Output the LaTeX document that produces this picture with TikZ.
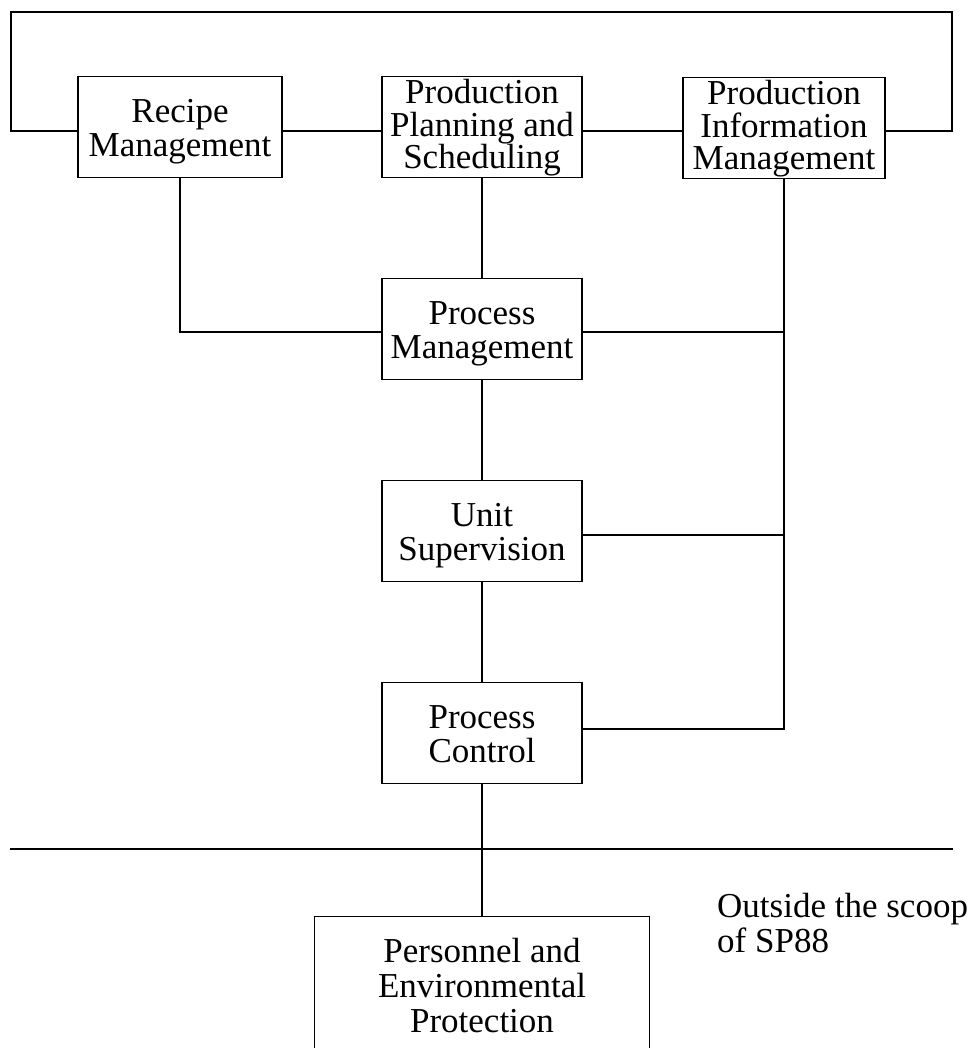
\documentclass[tikz,border=0pt]{standalone}
\usepackage{fontspec}
\setmainfont{Liberation Serif}
\usetikzlibrary{calc}
\begin{document}
\begin{tikzpicture}[x=1pt,y=-1pt,
  every node/.style={font=\fontsize{35}{34}\selectfont, align=center, inner sep=0pt},
  blk/.style={draw, line width=1.2pt, minimum width=200pt, minimum height=101pt},
  twolines/.style={text height=63pt, text depth=4pt},
  threelines/.style={font=\fontsize{35}{32.5}\selectfont, text height=88pt, text depth=4pt},
  conn/.style={line width=1.2pt},
  divider/.style={line width=1.8pt}]
\useasboundingbox (0,0) rectangle (976,1048);
% top row
\node[blk, twolines, minimum width=204pt] (rm) at (180,127) {Recipe\\Management};
\node[blk, threelines] (pps) at (482,127) {Production\\Planning and\\Scheduling};
\node[blk, threelines, minimum width=202pt] (pim) at (784,128) {Production\\Information\\Management};
% column
\node[blk, twolines] (pm) at (482,329) {Process\\Management};
\node[blk, twolines] (us) at (482,531) {Unit\\Supervision};
\node[blk, twolines] (pc) at (482,733) {Process\\Control};
% bottom (open) box
\node[minimum width=334pt, minimum height=160pt] (pepbox) at (482,997) {};
\node[anchor=base, font=\fontsize{35}{35}\selectfont] (pep) at (482,1032) {Personnel and\\Environmental\\Protection};
\draw[conn] (pepbox.south west) |- (pepbox.north east) -- (pepbox.south east);
% outside note
\node[anchor=base west, align=left, font=\fontsize{35}{35}\selectfont] (note) at (717,952) {Outside the scoop\\of SP88};
% connection points
\coordinate (rmW) at ($(rm.west)+(0,4)$);
\coordinate (rmE) at ($(rm.east)+(0,4)$);
\coordinate (ppsW) at ($(pps.west)+(0,4)$);
\coordinate (ppsE) at ($(pps.east)+(0,4)$);
\coordinate (pimW) at ($(pim.west)+(0,3)$);
\coordinate (pimE) at ($(pim.east)+(0,3)$);
\coordinate (pmW) at ($(pm.west)+(0,3)$);
\coordinate (pmE) at ($(pm.east)+(0,3)$);
\coordinate (usE) at ($(us.east)+(0,4)$);
\coordinate (pcE) at ($(pc.east)+(0,-4)$);
% loop at top
\coordinate (loopL) at (11,12);
\coordinate (loopR) at (952,12);
\draw[conn] (rmW) -| (loopL) -- (loopR) |- (pimE);
% top row links
\draw[conn] (rmE) -- (ppsW);
\draw[conn] (ppsE) -- (pimW);
% vertical links
\draw[conn] (rm.south) |- (pmW);
\draw[conn] (pps.south) -- (pm.north);
\draw[conn] (pm.south) -- (us.north);
\draw[conn] (us.south) -- (pc.north);
\draw[conn] (pc.south) -- (pepbox.north);
% information bus
\draw[conn] (pim.south) |- (pcE);
\draw[conn] (pmE) -- (pmE -| pim.south);
\draw[conn] (usE) -- (usE -| pim.south);
% divider
\coordinate (divL) at (10,849);
\coordinate (divR) at (953,849);
\draw[divider] (divL) -- (divR);
\end{tikzpicture}
\end{document}
